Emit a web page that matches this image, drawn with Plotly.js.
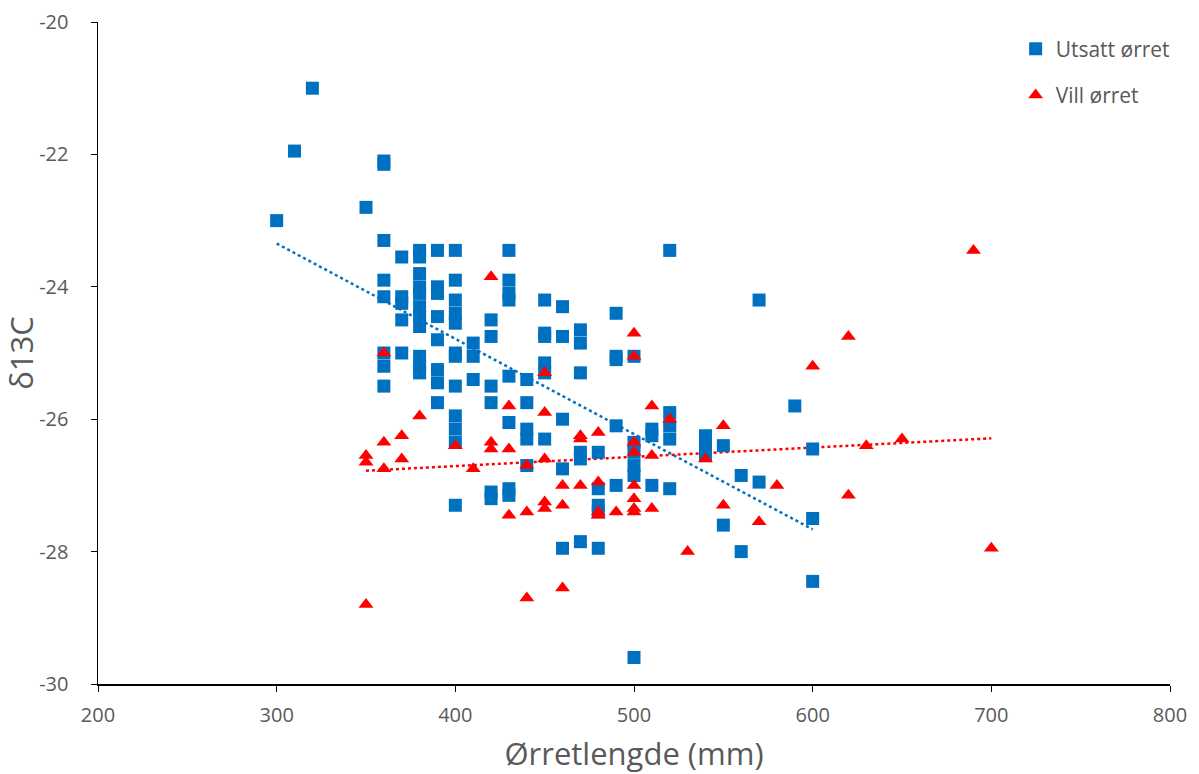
<!DOCTYPE html>
<html><head><meta charset="utf-8">
<script src="https://cdn.plot.ly/plotly-3.0.1.min.js"></script>
<style>html,body{margin:0;padding:0;background:#fff}#c{width:1199px;height:774px}</style>
</head><body><div id="c"></div>
<script>
// Utsatt ørret (stocked trout): length (mm) and δ13C
const utsattX = [300,310,320,350,360,360,360,360,360,360,360,360,
 370,370,370,370,370,
 380,380,380,380,380,380,380,380,380,380,380,
 390,390,390,390,390,390,390,390,
 400,400,400,400,400,400,400,400,400,400,400,400,
 410,410,410,
 420,420,420,420,420,420,
 430,430,430,430,430,430,430,430,
 440,440,440,440,440,
 450,450,450,450,450,450,
 460,460,460,460,460,
 470,470,470,470,470,470,
 480,480,480,480,480,
 490,490,490,490,490,
 500,500,500,500,500,500,
 510,510,510,
 520,520,520,520,520,
 540,540,540,
 550,550,560,560,570,570,590,600,600,600];
const utsattY = [-23.0,-21.95,-21.0,-22.8,-22.1,-22.15,-23.3,-23.9,-24.15,-25.0,-25.2,-25.5,
 -23.55,-24.15,-24.25,-24.5,-25.0,
 -23.45,-23.55,-23.8,-24.0,-24.1,-24.3,-24.45,-24.6,-25.05,-25.2,-25.3,
 -23.45,-24.0,-24.1,-24.45,-24.8,-25.25,-25.45,-25.75,
 -23.45,-23.9,-24.2,-24.4,-24.55,-25.0,-25.05,-25.5,-25.95,-26.15,-26.35,-27.3,
 -24.85,-25.05,-25.4,
 -24.5,-24.75,-25.5,-25.75,-27.1,-27.2,
 -23.45,-23.9,-24.1,-24.2,-25.35,-26.05,-27.05,-27.15,
 -25.4,-25.75,-26.15,-26.3,-26.7,
 -24.2,-24.7,-24.75,-25.15,-25.3,-26.3,
 -24.3,-24.75,-26.0,-26.75,-27.95,
 -24.65,-24.85,-25.3,-26.5,-26.6,-27.85,
 -26.5,-27.05,-27.3,-27.4,-27.95,
 -24.4,-25.05,-25.1,-26.1,-27.0,
 -25.05,-26.35,-26.5,-26.7,-26.85,-29.6,
 -26.15,-26.25,-27.0,
 -23.45,-25.9,-26.1,-26.3,-27.05,
 -26.25,-26.4,-26.55,
 -26.4,-27.6,-26.85,-28.0,-24.2,-26.95,-25.8,-26.45,-27.5,-28.45];

// Vill ørret (wild trout)
const villX = [350,350,350,360,360,360,370,370,380,400,410,
 420,420,420,430,430,430,440,440,440,
 450,450,450,450,450,460,460,460,470,470,470,
 480,480,480,480,490,
 500,500,500,500,500,500,500,500,
 510,510,510,520,530,540,550,550,570,580,600,620,620,630,650,690,700];
const villY = [-28.8,-26.55,-26.65,-25.0,-26.35,-26.75,-26.25,-26.6,-25.95,-26.4,-26.75,
 -23.85,-26.35,-26.45,-25.8,-26.45,-27.45,-26.7,-27.4,-28.7,
 -25.3,-25.9,-26.6,-27.25,-27.35,-27.0,-27.3,-28.55,-26.25,-26.3,-27.0,
 -26.2,-26.95,-27.4,-27.45,-27.4,
 -24.7,-25.05,-26.35,-26.5,-27.0,-27.2,-27.35,-27.4,
 -25.8,-26.55,-27.35,-26.0,-28.0,-26.6,-26.1,-27.3,-27.55,-27.0,-25.2,-24.75,-27.15,-26.4,-26.3,-23.45,-27.95];

const seriesNames = ['Utsatt ørret','Vill ørret'];
const xTicks = [200,300,400,500,600,700,800];
const yTicks = [-30,-28,-26,-24,-22,-20];

function linfit(xs, ys){
  const n=xs.length; let sx=0,sy=0,sxx=0,sxy=0;
  for(let i=0;i<n;i++){sx+=xs[i];sy+=ys[i];sxx+=xs[i]*xs[i];sxy+=xs[i]*ys[i];}
  const b=(n*sxy-sx*sy)/(n*sxx-sx*sx); const a=(sy-b*sx)/n;
  const x0=Math.min(...xs), x1=Math.max(...xs);
  return {x:[x0,x1], y:[a+b*x0, a+b*x1]};
}
const fu = linfit(utsattX, utsattY);
const fv = linfit(villX, villY);

const blue='#0070C0', red='#FF0000';
const data = [
 {x:fu.x,y:fu.y,mode:'lines',line:{color:blue,width:2.5,dash:'dot'},showlegend:false,hoverinfo:'skip'},
 {x:fv.x,y:fv.y,mode:'lines',line:{color:red,width:2.5,dash:'dot'},showlegend:false,hoverinfo:'skip'},
 {x:utsattX,y:utsattY,mode:'markers',name:seriesNames[0],legendgroup:'a',
  marker:{symbol:'square',size:13,color:blue}},
 {x:villX,y:villY,mode:'markers',name:seriesNames[1],legendgroup:'b',
  marker:{symbol:'triangle-up',size:13,color:red}}
];
const fontFam = 'Open Sans, Noto Sans, sans-serif';
const layout = {
 width:1199,height:774,
 margin:{l:98,r:29,t:22,b:90},
 paper_bgcolor:'#fff',plot_bgcolor:'#fff',
 font:{family:fontFam,color:'#595959',size:20},
 xaxis:{range:[200,800],tickvals:xTicks,ticktext:xTicks.map(String),showgrid:false,zeroline:false,
  showline:true,linecolor:'#000',linewidth:1.5,ticks:'outside',ticklen:6,tickcolor:'#000',
  tickfont:{size:20},ticklabelstandoff:6,
  title:{text:'Ørretlengde (mm)',font:{size:31,color:'#595959'},standoff:18}},
 yaxis:{range:[-30,-20],tickvals:yTicks,ticktext:yTicks.map(v=>String(v)),showgrid:false,zeroline:false,
  showline:true,linecolor:'#000',linewidth:1.5,ticks:'outside',ticklen:6,tickcolor:'#000',
  tickfont:{size:20},ticklabelstandoff:18,
  title:{text:'δ13C',font:{size:31,color:'#595959'},standoff:14}},
 legend:{x:0.856,y:0.99,xanchor:'left',yanchor:'top',font:{size:21,color:'#595959'},
  traceorder:'grouped',tracegroupgap:16,bgcolor:'rgba(0,0,0,0)'},
 showlegend:true
};
Plotly.newPlot('c',data,layout,{displayModeBar:false,staticPlot:true});
</script></body></html>
